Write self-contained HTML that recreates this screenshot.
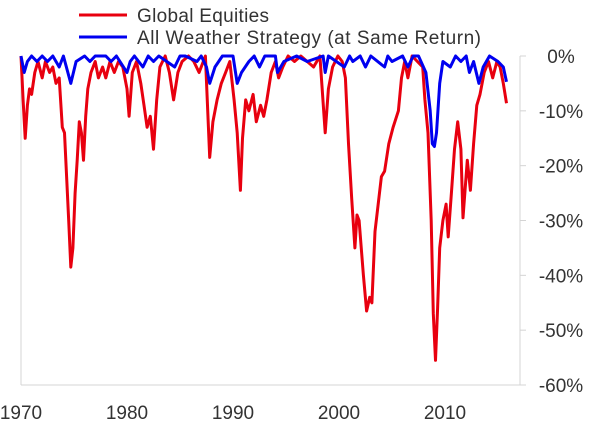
<!DOCTYPE html>
<html><head><meta charset="utf-8"><style>
body{margin:0;background:#fff;}
svg{display:block;font-family:"Liberation Sans",sans-serif;}
</style></head><body>
<svg id="chart" width="603" height="423">
<g id="legend">
<line x1="79" y1="15" x2="127" y2="15" stroke="#e8000f" stroke-width="3"/>
<text x="137" y="22" font-size="19" fill="#333" textLength="132">Global Equities</text>
<line x1="79" y1="37" x2="127" y2="37" stroke="#0000f0" stroke-width="3"/>
<text x="137" y="44" font-size="19" fill="#333" textLength="344">All Weather Strategy (at Same Return)</text>
</g>
<g id="axes"></g>
<g id="series"></g>
</svg>
<script>
const yTicks=[0,-10,-20,-30,-40,-50,-60];
const xTickLabels=["1970","1980","1990","2000","2010"];
const xTickYears=[1970,1980,1990,2000,2010];
const redYears=[1970.0,1970.2,1970.4,1970.6,1970.8,1971.0,1971.3,1971.6,1972.0,1972.3,1972.7,1973.0,1973.3,1973.6,1973.9,1974.1,1974.3,1974.5,1974.7,1974.9,1975.1,1975.3,1975.5,1975.7,1975.9,1976.1,1976.3,1976.6,1977.0,1977.3,1977.7,1978.0,1978.4,1978.8,1979.2,1979.6,1980.0,1980.2,1980.5,1980.9,1981.3,1981.6,1981.9,1982.2,1982.5,1982.8,1983.1,1983.6,1984.0,1984.4,1984.8,1985.2,1985.8,1986.3,1986.8,1987.4,1987.8,1988.1,1988.5,1988.9,1989.3,1989.7,1990.1,1990.4,1990.7,1990.9,1991.2,1991.5,1991.9,1992.2,1992.6,1992.9,1993.2,1993.6,1994.0,1994.3,1994.7,1995.2,1995.8,1996.4,1997.0,1997.6,1998.2,1998.7,1999.0,1999.4,1999.9,2000.3,2000.6,2000.9,2001.2,2001.5,2001.7,2001.9,2002.3,2002.6,2002.9,2003.1,2003.4,2003.7,2004.0,2004.3,2004.7,2005.1,2005.6,2005.9,2006.2,2006.5,2006.9,2007.4,2007.9,2008.1,2008.4,2008.7,2008.9,2009.1,2009.3,2009.5,2009.8,2010.1,2010.3,2010.6,2010.9,2011.2,2011.5,2011.7,2012.1,2012.4,2012.7,2013.0,2013.3,2013.7,2014.1,2014.5,2014.9,2015.2,2015.5,2015.8];
const redValues=[0,-8,-15,-9,-6,-7,-3,-1,-4,-1,-3,-2,-5,-4,-13,-14,-22,-30,-38.5,-35,-25,-19,-12,-14,-19,-11,-6,-3,-1,-4,-2,-4,-1,-3,-1,-2,-6,-11,-3,-1,-5,-9,-13,-11,-17,-8,-2,0,-3,-8,-3,-1,0,-1,-3,0,-18.5,-12,-8,-5,-3,-1,-8,-14,-24.5,-15,-8,-10,-7,-12,-9,-11,-8,-3,-1,-4,-2,0,-1,0,-1,-2,0,-14,-6,-2,0,-1,-4,-16,-26,-35,-29,-30,-40,-46.5,-44,-45,-32,-27,-22,-21,-16,-13,-10,-4,-1,-4,0,-1,-2,-8,-14,-30,-47,-55.5,-46,-35,-30,-27,-33,-25,-17,-12,-17,-29.5,-19,-24.5,-16,-9,-7,-3,-1,-4,-1,-2,-5,-8.6];
const blueYears=[1970.0,1970.3,1970.6,1971.0,1971.5,1972.0,1972.5,1973.0,1973.6,1974.0,1974.7,1975.2,1976.0,1976.5,1977.0,1978.0,1978.5,1979.0,1980.0,1980.3,1980.7,1981.5,1982.0,1982.5,1983.0,1984.5,1985.0,1985.5,1986.6,1987.0,1987.5,1987.8,1988.3,1989.0,1990.0,1990.4,1990.8,1991.5,1992.0,1992.5,1993.0,1994.0,1994.2,1994.8,1996.0,1997.0,1998.5,1998.7,1999.0,2000.5,2001.0,2001.3,2002.0,2002.5,2003.0,2004.3,2004.6,2005.0,2006.0,2006.5,2007.0,2007.5,2008.2,2008.6,2008.8,2009.0,2009.2,2009.5,2009.8,2010.5,2011.0,2011.5,2012.0,2012.3,2012.7,2013.2,2013.6,2014.2,2015.0,2015.5,2015.8];
const blueValues=[0,-3,-1,0,-1,0,-1,0,-2,0,-5,-1,0,-1,0,0,-1,0,-3,-1,0,-2,0,-1,0,-2,0,0,-1,0,-2,-5,-2,0,0,-5,-3,-1,0,-2,0,0,-3,-1,0,-1,0,-3,0,-2,0,-1,0,-2,0,-2,0,-1,0,-2,0,0,-3,-10,-16,-16.5,-14,-5,-1,-2,0,-1,0,-3,-1,-5,-2,0,-1,-2,-4.7];

const L=21,R=520,T=56,B=385;
const xScale=y=>L+(y-1970)*10.6;
const yScale=v=>T+(-v)*(B-T)/60;
const NS="http://www.w3.org/2000/svg";
const axes=document.getElementById('axes');
const series=document.getElementById('series');
function mk(tag,attrs,parent){const e=document.createElementNS(NS,tag);for(const k in attrs)e.setAttribute(k,attrs[k]);parent.appendChild(e);return e;}

let l=mk('line',{x1:L,y1:T,x2:L,y2:B,stroke:'#d4d4d4','stroke-width':1},axes);


l=mk('line',{x1:L,y1:B,x2:R,y2:B,stroke:'#d4d4d4','stroke-width':1},axes);


l=mk('line',{x1:R,y1:T,x2:R,y2:B,stroke:'#d4d4d4','stroke-width':1},axes);



yTicks.forEach(v=>{
  const y=yScale(v);
  const t=mk('line',{x1:R,y1:y,x2:R+6,y2:y,stroke:'#d4d4d4','stroke-width':1},axes);
  
  
  const tx=mk('text',{x:561,y:y+7,'font-size':19,fill:'#333','text-anchor':'middle'},axes);
  tx.textContent=v+'%';
  
  
});
xTickLabels.forEach((s,i)=>{
  const tx=mk('text',{x:xScale(xTickYears[i]),y:419,'font-size':19,fill:'#333','text-anchor':'middle'},axes);
  tx.textContent=s;
  
  
});
function path(xs,vs,color,name){
  const d=xs.map((x,i)=>(i?'L':'M')+xScale(x).toFixed(1)+','+yScale(vs[i]).toFixed(1)).join('');
  const p=mk('path',{d:d,fill:'none',stroke:color,'stroke-width':3,'stroke-linejoin':'round'},series);
  
  
}
path(redYears,redValues,'#e8000f','global-equities-line');
path(blueYears,blueValues,'#0000f0','all-weather-line');
</script>
</body></html>
